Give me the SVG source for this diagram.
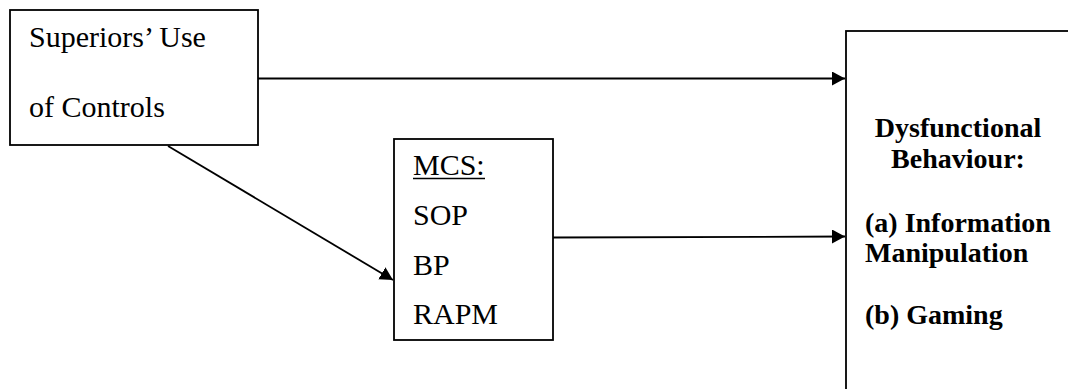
<svg xmlns="http://www.w3.org/2000/svg" width="1068" height="389" viewBox="0 0 1068 389">
  <style>
    .box { fill: #ffffff; stroke: #000000; stroke-width: 1.8; }
    .lbl { font-family: "Liberation Serif", "Times New Roman", serif; font-size: 30px; fill: #000000; }
    .bold { font-weight: bold; font-size: 28px; }
    .edge { fill: none; stroke: #000000; stroke-width: 1.8; marker-end: url(#arrow); }
  </style>
  <defs>
    <marker id="arrow" markerUnits="userSpaceOnUse" markerWidth="14" markerHeight="14" refX="13" refY="7" orient="auto">
      <path d="M0,0 L13,7 L0,14 Z" fill="#000000"/>
    </marker>
  </defs>
  <rect width="1068" height="389" fill="#ffffff"/>

  <!-- connectors -->
  <g id="connectors">
    <line class="edge" x1="258" y1="78.5" x2="845" y2="78.5"/>
    <line class="edge" x1="168" y1="146" x2="393" y2="280"/>
    <line class="edge" x1="553" y1="237.5" x2="845" y2="236.5"/>
  </g>

  <!-- source box -->
  <g id="superiors">
    <rect class="box" x="10" y="10" width="248" height="135"/>
    <text class="lbl" x="29" y="47">Superiors’ Use</text>
    <text class="lbl" x="29" y="117">of Controls</text>
  </g>

  <!-- mediating box -->
  <g id="mcs">
    <rect class="box" x="394" y="139" width="159" height="201"/>
    <text class="lbl" x="413" y="175">MCS:</text>
    <line x1="413" y1="178.5" x2="485" y2="178.5" stroke="#000000" stroke-width="1.6"/>
    <text class="lbl" x="413" y="225">SOP</text>
    <text class="lbl" x="413" y="275">BP</text>
    <text class="lbl" x="413" y="324">RAPM</text>
  </g>

  <!-- outcome box -->
  <g id="dysfunctional">
    <rect class="box" x="846" y="31" width="240" height="380"/>
    <text class="lbl bold" x="958" y="137" text-anchor="middle">Dysfunctional</text>
    <text class="lbl bold" x="958" y="168" text-anchor="middle">Behaviour:</text>
    <text class="lbl bold" x="865" y="232">(a) Information</text>
    <text class="lbl bold" x="865" y="262">Manipulation</text>
    <text class="lbl bold" x="865" y="324">(b) Gaming</text>
  </g>
</svg>
